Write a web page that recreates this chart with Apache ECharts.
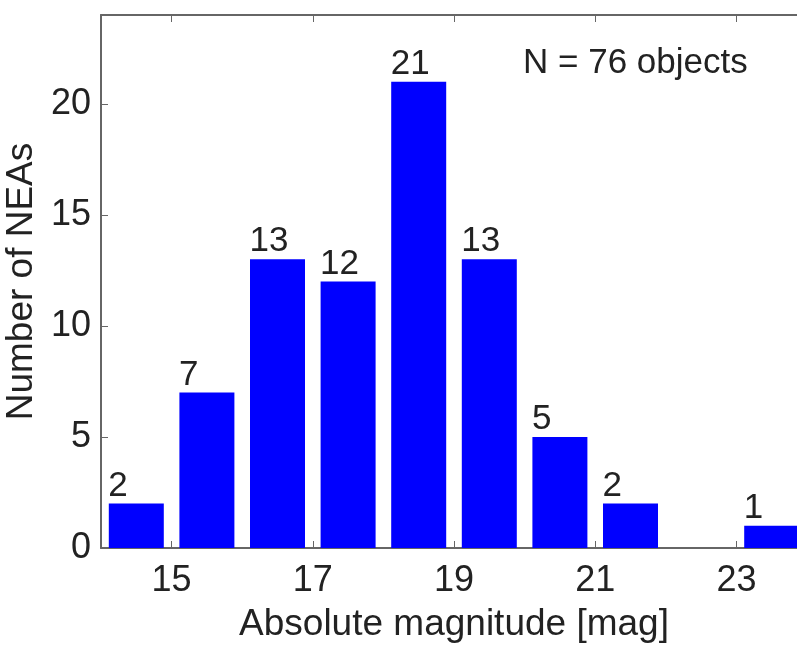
<!DOCTYPE html>
<html>
<head>
<meta charset="utf-8">
<script src="https://cdn.jsdelivr.net/npm/echarts@6/dist/echarts.min.js"></script>
<style>
html, body { margin: 0; padding: 0; background: #fff; }
#chart { width: 797px; height: 648px; }
</style>
</head>
<body>
<div id="chart"></div>
<script>
// histogram bins (absolute magnitude) and counts
var binCenters = [14.5, 15.5, 16.5, 17.5, 18.5, 19.5, 20.5, 21.5, 22.5, 23.5];
var counts = [2, 7, 13, 12, 21, 13, 5, 2, 0, 1];
var xTicks = [15, 17, 19, 21, 23];
var yTicks = [0, 5, 10, 15, 20];
var totalText = 'N = 76 objects';

function drawChart() {
    var myChart = echarts.init(document.getElementById('chart'));
    var font = 'Liberation Sans, Arial, Helvetica, sans-serif';
    var txt = '#222';
    var axisGray = '#666';

    var barData = [];
    for (var i = 0; i < binCenters.length; i++) {
        barData.push([binCenters[i], counts[i]]);
    }

    var option = {
        animation: false,
        backgroundColor: '#fff',
        title: {
            text: totalText,
            left: 523,
            top: 46,
            padding: 0,
            textStyle: {fontFamily: font, fontSize: 35, fontWeight: 'normal', color: txt}
        },
        grid: {left: 101, top: 15, width: 706, height: 533, containLabel: false, outerBoundsMode: 'none'},
        xAxis: [
            {
                type: 'value',
                min: 14,
                max: 24,
                name: 'Absolute magnitude [mag]',
                nameLocation: 'middle',
                nameGap: 58,
                nameTextStyle: {fontFamily: font, fontSize: 37, color: txt},
                axisLine: {show: true, lineStyle: {color: axisGray, width: 2}},
                axisTick: {show: true, inside: true, length: 7, customValues: xTicks, lineStyle: {color: axisGray}},
                axisLabel: {customValues: xTicks, margin: 15, fontFamily: font, fontSize: 36, color: txt},
                splitLine: {show: false}
            },
            {
                type: 'value',
                position: 'top',
                min: 14,
                max: 24,
                axisLine: {show: true, lineStyle: {color: axisGray, width: 2}},
                axisTick: {show: true, inside: true, length: 7, customValues: xTicks, lineStyle: {color: axisGray}},
                axisLabel: {show: false},
                splitLine: {show: false}
            }
        ],
        yAxis: [
            {
                type: 'value',
                min: 0,
                max: 24,
                name: 'Number of NEAs',
                nameLocation: 'middle',
                nameGap: 56,
                nameTextStyle: {fontFamily: font, fontSize: 37, color: txt},
                axisLine: {show: true, lineStyle: {color: axisGray, width: 2}},
                axisTick: {show: true, inside: true, length: 7, customValues: yTicks, lineStyle: {color: axisGray}},
                axisLabel: {customValues: yTicks, margin: 10, fontFamily: font, fontSize: 36, color: txt},
                splitLine: {show: false}
            }
        ],
        series: [
            {
                name: 'NEAs',
                type: 'bar',
                xAxisIndex: 0,
                yAxisIndex: 0,
                barWidth: 55,
                itemStyle: {color: '#0000ff'},
                label: {
                    show: true,
                    position: 'top',
                    distance: 0,
                    align: 'left',
                    offset: [-28, 0],
                    fontFamily: font,
                    fontSize: 35,
                    color: txt,
                    formatter: function (p) {
                        return p.value[1] > 0 ? String(p.value[1]) : '';
                    }
                },
                data: barData
            }
        ]
    };

    myChart.setOption(option);
}

drawChart();
</script>
</body>
</html>
